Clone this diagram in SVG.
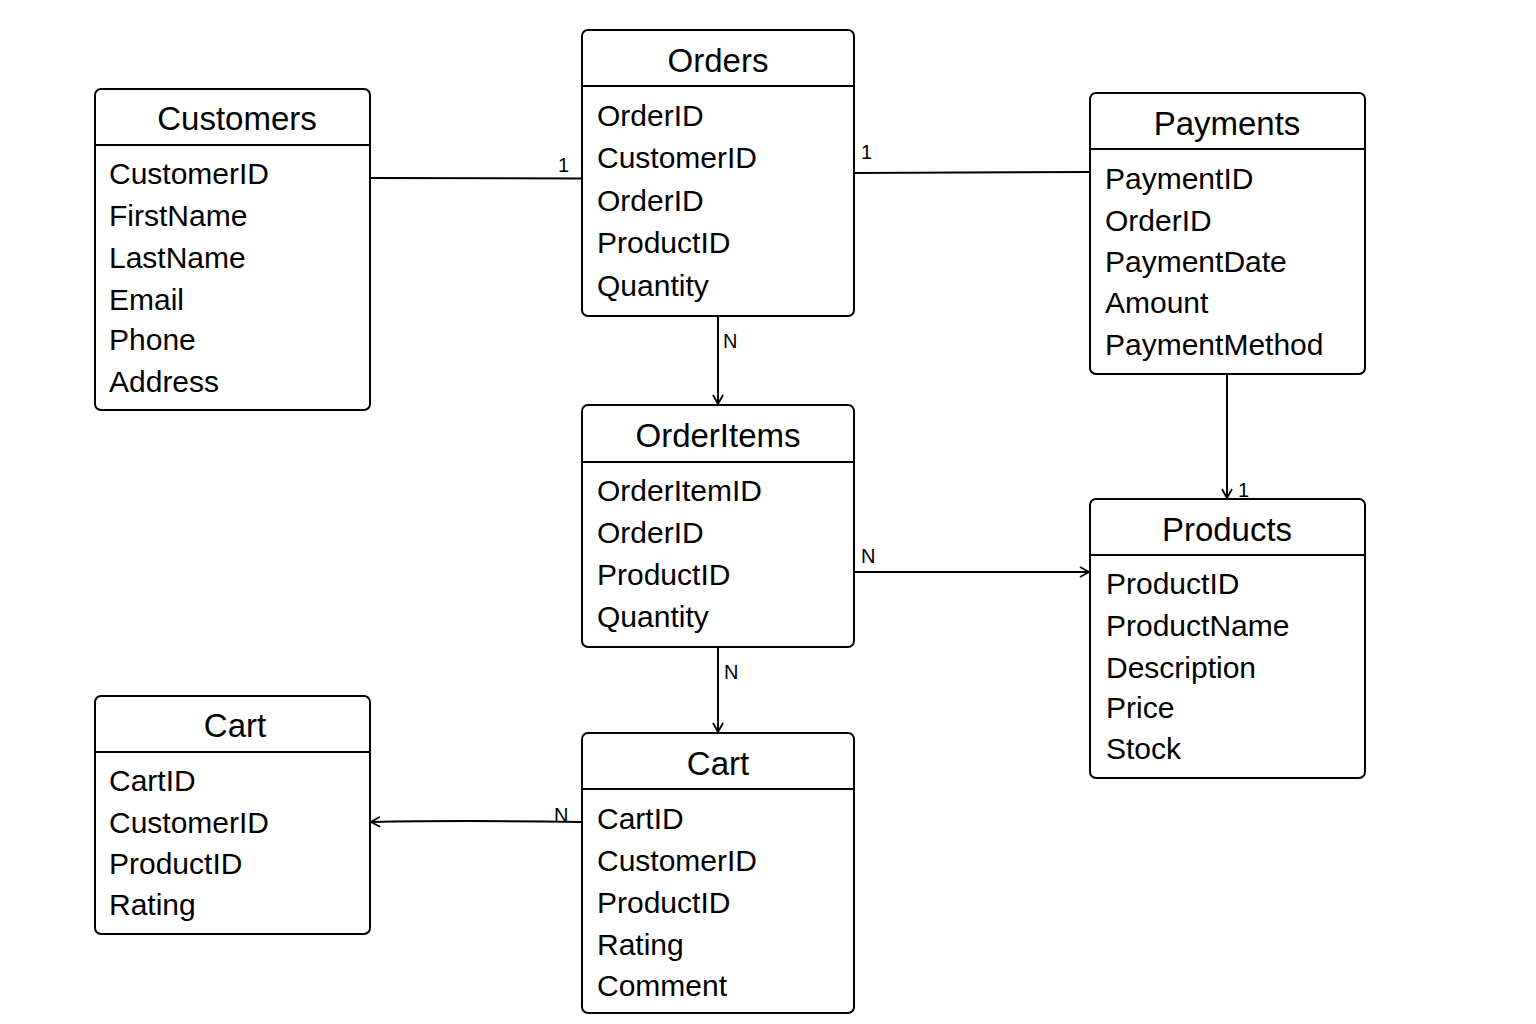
<svg xmlns="http://www.w3.org/2000/svg" width="1536" height="1024" viewBox="0 0 1536 1024">
<defs>
<style>
.box{fill:#fff;stroke:#000;stroke-width:2}
.sep{stroke:#000;stroke-width:2}
.title{font-family:"Liberation Sans",Arial,sans-serif;font-size:33px;fill:#000;text-anchor:middle}
.field{font-family:"Liberation Sans",Arial,sans-serif;font-size:30px;fill:#000}
.lbl{font-family:"Liberation Sans",Arial,sans-serif;font-size:20px;fill:#000}
.conn{fill:none;stroke:#000;stroke-width:2}
</style>
<marker id="arr" viewBox="0 0 12 12" refX="11" refY="6" markerWidth="12" markerHeight="12" markerUnits="userSpaceOnUse" orient="auto">
<path d="M2,1 L11,6 L2,11" fill="none" stroke="#000" stroke-width="1.8"/>
</marker>
</defs>
<rect width="1536" height="1024" fill="#fff"/>

<g id="connectors">
<line class="conn" x1="370" y1="178" x2="582" y2="178.5"/>
<text class="lbl" x="558" y="172">1</text>
<line class="conn" x1="854" y1="173" x2="1090" y2="172"/>
<text class="lbl" x="861" y="159">1</text>
<line class="conn" x1="718" y1="316" x2="718" y2="404" marker-end="url(#arr)"/>
<text class="lbl" x="723" y="348">N</text>
<line class="conn" x1="1227" y1="374" x2="1227" y2="498" marker-end="url(#arr)"/>
<text class="lbl" x="1238" y="497">1</text>
<line class="conn" x1="854" y1="572" x2="1089" y2="572" marker-end="url(#arr)"/>
<text class="lbl" x="861" y="563">N</text>
<line class="conn" x1="718" y1="647" x2="718" y2="732" marker-end="url(#arr)"/>
<text class="lbl" x="724" y="679">N</text>
<path class="conn" d="M582,822 C520,821 460,820 371,822" marker-end="url(#arr)"/>
<text class="lbl" x="554" y="822">N</text>
</g>

<g id="customers">
<rect class="box" x="95" y="89" width="275" height="321" rx="6"/>
<line class="sep" x1="95" y1="145" x2="370" y2="145"/>
<text class="title" x="237" y="130">Customers</text>
<text class="field" x="109" y="184">CustomerID</text>
<text class="field" x="109" y="226">FirstName</text>
<text class="field" x="109" y="268">LastName</text>
<text class="field" x="109" y="310">Email</text>
<text class="field" x="109" y="350">Phone</text>
<text class="field" x="109" y="392">Address</text>
</g>

<g id="orders">
<rect class="box" x="582" y="30" width="272" height="286" rx="6"/>
<line class="sep" x1="582" y1="86" x2="854" y2="86"/>
<text class="title" x="718" y="72">Orders</text>
<text class="field" x="597" y="126">OrderID</text>
<text class="field" x="597" y="168">CustomerID</text>
<text class="field" x="597" y="211">OrderID</text>
<text class="field" x="597" y="253">ProductID</text>
<text class="field" x="597" y="296">Quantity</text>
</g>

<g id="payments">
<rect class="box" x="1090" y="93" width="275" height="281" rx="6"/>
<line class="sep" x1="1090" y1="149" x2="1365" y2="149"/>
<text class="title" x="1227" y="135">Payments</text>
<text class="field" x="1105" y="189">PaymentID</text>
<text class="field" x="1105" y="231">OrderID</text>
<text class="field" x="1105" y="272">PaymentDate</text>
<text class="field" x="1105" y="313">Amount</text>
<text class="field" x="1105" y="355">PaymentMethod</text>
</g>

<g id="orderitems">
<rect class="box" x="582" y="405" width="272" height="242" rx="6"/>
<line class="sep" x1="582" y1="462" x2="854" y2="462"/>
<text class="title" x="718" y="447">OrderItems</text>
<text class="field" x="597" y="501">OrderItemID</text>
<text class="field" x="597" y="543">OrderID</text>
<text class="field" x="597" y="585">ProductID</text>
<text class="field" x="597" y="627">Quantity</text>
</g>

<g id="products">
<rect class="box" x="1090" y="499" width="275" height="279" rx="6"/>
<line class="sep" x1="1090" y1="555" x2="1365" y2="555"/>
<text class="title" x="1227" y="541">Products</text>
<text class="field" x="1106" y="594">ProductID</text>
<text class="field" x="1106" y="636">ProductName</text>
<text class="field" x="1106" y="678">Description</text>
<text class="field" x="1106" y="718">Price</text>
<text class="field" x="1106" y="759">Stock</text>
</g>

<g id="cart-left">
<rect class="box" x="95" y="696" width="275" height="238" rx="6"/>
<line class="sep" x1="95" y1="752" x2="370" y2="752"/>
<text class="title" x="235" y="737">Cart</text>
<text class="field" x="109" y="791">CartID</text>
<text class="field" x="109" y="833">CustomerID</text>
<text class="field" x="109" y="874">ProductID</text>
<text class="field" x="109" y="915">Rating</text>
</g>

<g id="cart-center">
<rect class="box" x="582" y="733" width="272" height="280" rx="6"/>
<line class="sep" x1="582" y1="789" x2="854" y2="789"/>
<text class="title" x="718" y="775">Cart</text>
<text class="field" x="597" y="829">CartID</text>
<text class="field" x="597" y="871">CustomerID</text>
<text class="field" x="597" y="913">ProductID</text>
<text class="field" x="597" y="955">Rating</text>
<text class="field" x="597" y="996">Comment</text>
</g>
</svg>
